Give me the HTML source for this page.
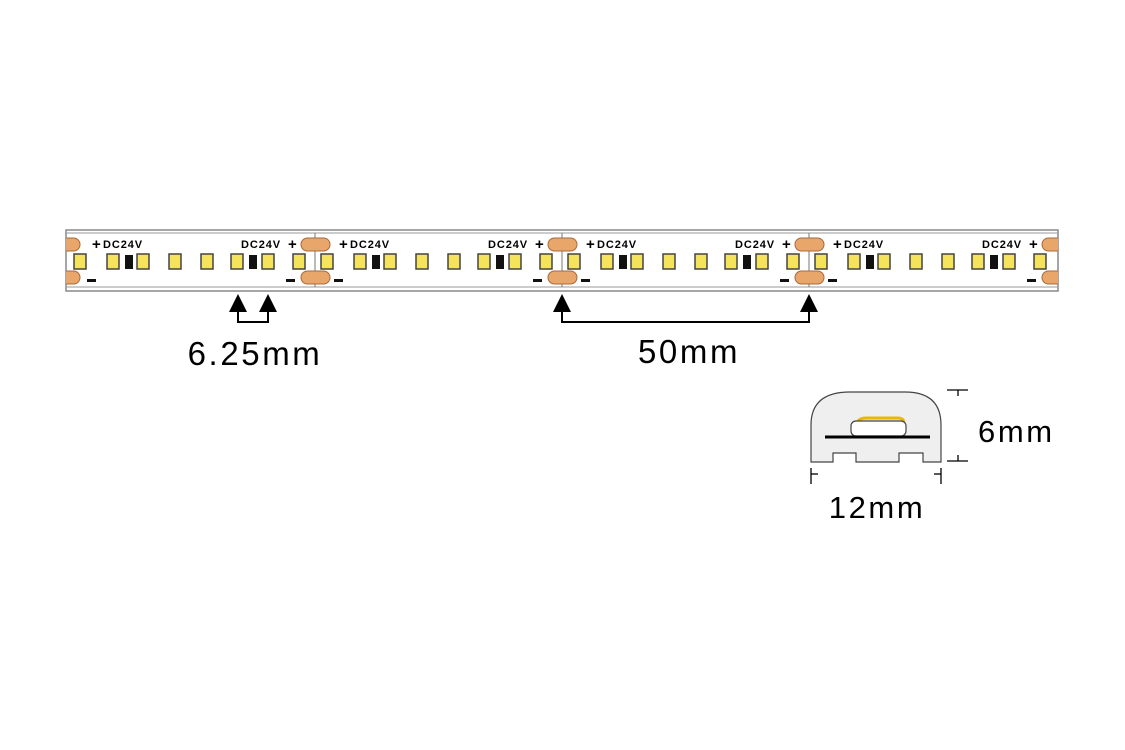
<!DOCTYPE html>
<html><head><meta charset="utf-8"><style>
html,body{margin:0;padding:0;background:#fff;width:1125px;height:750px;overflow:hidden}
svg{display:block}
text{font-family:"Liberation Sans",Arial,sans-serif}
.big{letter-spacing:2.6px}
.dc{font-size:11px;font-weight:bold;letter-spacing:0.9px}
.pl{font-size:15px;font-weight:bold}
</style></head><body>
<svg width="1125" height="750" viewBox="0 0 1125 750" xmlns="http://www.w3.org/2000/svg">
<defs>
<clipPath id="strip"><rect x="66" y="230" width="992" height="61"/></clipPath>
</defs>
<rect x="66" y="230" width="992" height="61" fill="#fff" stroke="#888" stroke-width="1.5"/>
<line x1="66" y1="233" x2="1058" y2="233" stroke="#999" stroke-width="1"/>
<line x1="66" y1="287" x2="1058" y2="287" stroke="#999" stroke-width="1"/>
<g clip-path="url(#strip)">
<rect x="52" y="238" width="28" height="13" rx="6.5" fill="#e9a66b" stroke="#a86a3a"/>
<rect x="52" y="271" width="28" height="13" rx="6.5" fill="#e9a66b" stroke="#a86a3a"/>

<g transform="translate(68,0)">
<g fill="#f6e35c" stroke="#444" stroke-width="1.5">
<rect x="6" y="254" width="12" height="15"/><rect x="39" y="254" width="12" height="15"/><rect x="69" y="254" width="12" height="15"/><rect x="101" y="254" width="12" height="15"/><rect x="133" y="254" width="12" height="15"/><rect x="163" y="254" width="12" height="15"/><rect x="194" y="254" width="12" height="15"/><rect x="225" y="254" width="12" height="15"/>
</g>
<rect x="57" y="255" width="8" height="14" fill="#111"/><rect x="181" y="255" width="8" height="14" fill="#111"/>
<text x="24" y="249" class="pl">+</text>
<text x="35" y="248" class="dc">DC24V</text>
<text x="173" y="248" class="dc">DC24V</text>
<text x="220" y="249" class="pl">+</text>
<rect x="19" y="279" width="9" height="3" fill="#111"/>
<rect x="218" y="279" width="9" height="3" fill="#111"/>
<line x1="247" y1="233" x2="247" y2="287" stroke="#777" stroke-width="1"/>
<rect x="233" y="238" width="29" height="13" rx="6.5" fill="#e9a66b" stroke="#a86a3a"/>
<rect x="233" y="271" width="29" height="13" rx="6.5" fill="#e9a66b" stroke="#a86a3a"/>
</g>
<g transform="translate(315,0)">
<g fill="#f6e35c" stroke="#444" stroke-width="1.5">
<rect x="6" y="254" width="12" height="15"/><rect x="39" y="254" width="12" height="15"/><rect x="69" y="254" width="12" height="15"/><rect x="101" y="254" width="12" height="15"/><rect x="133" y="254" width="12" height="15"/><rect x="163" y="254" width="12" height="15"/><rect x="194" y="254" width="12" height="15"/><rect x="225" y="254" width="12" height="15"/>
</g>
<rect x="57" y="255" width="8" height="14" fill="#111"/><rect x="181" y="255" width="8" height="14" fill="#111"/>
<text x="24" y="249" class="pl">+</text>
<text x="35" y="248" class="dc">DC24V</text>
<text x="173" y="248" class="dc">DC24V</text>
<text x="220" y="249" class="pl">+</text>
<rect x="19" y="279" width="9" height="3" fill="#111"/>
<rect x="218" y="279" width="9" height="3" fill="#111"/>
<line x1="247" y1="233" x2="247" y2="287" stroke="#777" stroke-width="1"/>
<rect x="233" y="238" width="29" height="13" rx="6.5" fill="#e9a66b" stroke="#a86a3a"/>
<rect x="233" y="271" width="29" height="13" rx="6.5" fill="#e9a66b" stroke="#a86a3a"/>
</g>
<g transform="translate(562,0)">
<g fill="#f6e35c" stroke="#444" stroke-width="1.5">
<rect x="6" y="254" width="12" height="15"/><rect x="39" y="254" width="12" height="15"/><rect x="69" y="254" width="12" height="15"/><rect x="101" y="254" width="12" height="15"/><rect x="133" y="254" width="12" height="15"/><rect x="163" y="254" width="12" height="15"/><rect x="194" y="254" width="12" height="15"/><rect x="225" y="254" width="12" height="15"/>
</g>
<rect x="57" y="255" width="8" height="14" fill="#111"/><rect x="181" y="255" width="8" height="14" fill="#111"/>
<text x="24" y="249" class="pl">+</text>
<text x="35" y="248" class="dc">DC24V</text>
<text x="173" y="248" class="dc">DC24V</text>
<text x="220" y="249" class="pl">+</text>
<rect x="19" y="279" width="9" height="3" fill="#111"/>
<rect x="218" y="279" width="9" height="3" fill="#111"/>
<line x1="247" y1="233" x2="247" y2="287" stroke="#777" stroke-width="1"/>
<rect x="233" y="238" width="29" height="13" rx="6.5" fill="#e9a66b" stroke="#a86a3a"/>
<rect x="233" y="271" width="29" height="13" rx="6.5" fill="#e9a66b" stroke="#a86a3a"/>
</g>
<g transform="translate(809,0)">
<g fill="#f6e35c" stroke="#444" stroke-width="1.5">
<rect x="6" y="254" width="12" height="15"/><rect x="39" y="254" width="12" height="15"/><rect x="69" y="254" width="12" height="15"/><rect x="101" y="254" width="12" height="15"/><rect x="133" y="254" width="12" height="15"/><rect x="163" y="254" width="12" height="15"/><rect x="194" y="254" width="12" height="15"/><rect x="225" y="254" width="12" height="15"/>
</g>
<rect x="57" y="255" width="8" height="14" fill="#111"/><rect x="181" y="255" width="8" height="14" fill="#111"/>
<text x="24" y="249" class="pl">+</text>
<text x="35" y="248" class="dc">DC24V</text>
<text x="173" y="248" class="dc">DC24V</text>
<text x="220" y="249" class="pl">+</text>
<rect x="19" y="279" width="9" height="3" fill="#111"/>
<rect x="218" y="279" width="9" height="3" fill="#111"/>
<rect x="233" y="238" width="29" height="13" rx="6.5" fill="#e9a66b" stroke="#a86a3a"/>
<rect x="233" y="271" width="29" height="13" rx="6.5" fill="#e9a66b" stroke="#a86a3a"/>
</g>
</g>

<g fill="#000">
<polygon points="238,294 229,312 247,312"/><polygon points="268,294 259,312 277,312"/>
<polygon points="562,294 553,312 571,312"/><polygon points="809,294 800,312 818,312"/>
</g>
<polyline points="238,310 238,322 268,322 268,310" fill="none" stroke="#000" stroke-width="2"/>
<polyline points="562,310 562,322 809,322 809,310" fill="none" stroke="#000" stroke-width="2"/>
<text x="255" y="365" font-size="33" text-anchor="middle" class="big">6.25mm</text>
<text x="689" y="363" font-size="33" text-anchor="middle" class="big">50mm</text>

<path d="M811,462 L811,425 Q811,392 850,392 L905,392 Q941,392 941,425 L941,462 L923,462 L923,453 L899,453 L899,462 L856,462 L856,453 L833,453 L833,462 Z" fill="#efefef" stroke="#444" stroke-width="1.2"/>
<path d="M857,422 Q860,418 866,418 L898,418 Q903,418 904,422" fill="none" stroke="#e8b800" stroke-width="3"/>
<rect x="851" y="421" width="55" height="15" rx="5" fill="#fff" stroke="#444" stroke-width="1.2"/>
<line x1="825" y1="437" x2="930" y2="437" stroke="#000" stroke-width="3"/>
<g stroke="#000" stroke-width="1.3" fill="none">
<line x1="947" y1="390" x2="968" y2="390"/><line x1="958" y1="390" x2="958" y2="396"/>
<line x1="947" y1="461" x2="968" y2="461"/><line x1="958" y1="461" x2="958" y2="455"/>
<line x1="811" y1="468" x2="811" y2="484"/><line x1="811" y1="474" x2="818" y2="474"/>
<line x1="941" y1="468" x2="941" y2="484"/><line x1="941" y1="474" x2="934" y2="474"/>
</g>
<text x="978" y="442" font-size="31" class="big">6mm</text>
<text x="877" y="518" font-size="31" text-anchor="middle" class="big">12mm</text>
</svg>
</body></html>
